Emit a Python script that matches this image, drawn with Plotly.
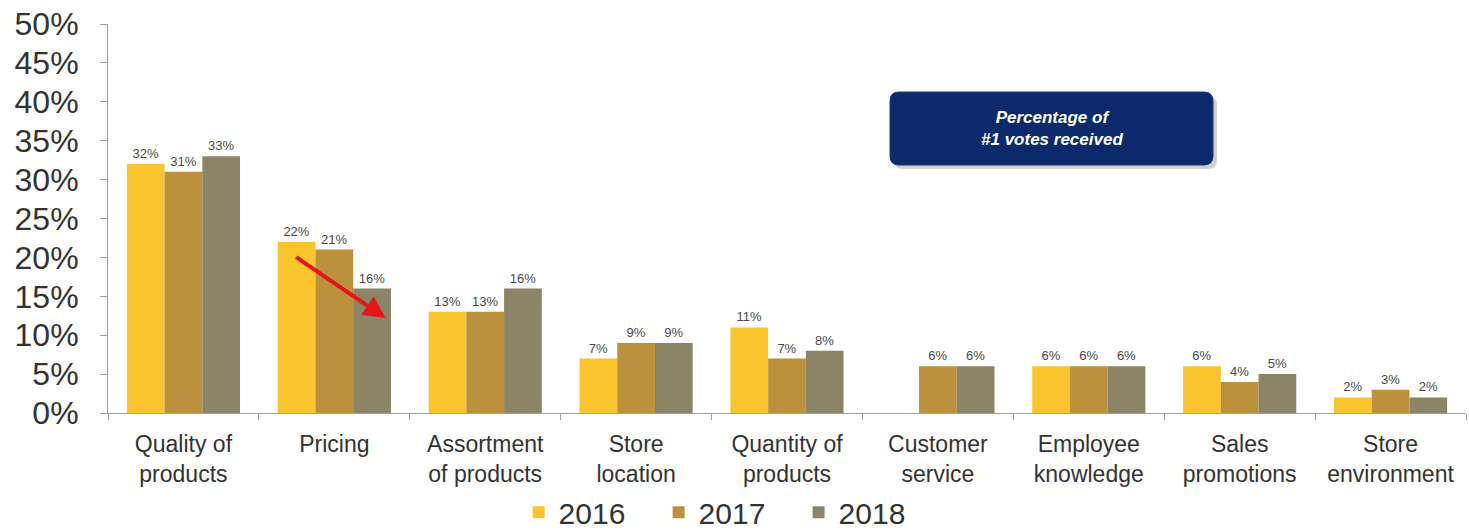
import plotly.graph_objects as go

categories = [
    "Quality of<br>products", "Pricing", "Assortment<br>of products",
    "Store<br>location", "Quantity of<br>products", "Customer<br>service",
    "Employee<br>knowledge", "Sales<br>promotions", "Store<br>environment",
]
years = ["2016", "2017", "2018"]
values_2016 = [32, 22, 13, 7, 11, None, 6, 6, 2]
values_2017 = [31, 21, 13, 9, 7, 6, 6, 4, 3]
values_2018 = [33, 16, 16, 9, 8, 6, 6, 5, 2]
colors = ["#FAC42E", "#BC913D", "#8B8466"]

W, H = 1469, 532
M_L, M_R, M_T, M_B = 108, 3, 24, 119
PW, PH = W - M_L - M_R, H - M_T - M_B


def px_to_paper(px, py):
    return (px - M_L) / PW, (H - M_B - py) / PH


def rounded_rect(x0, y0, x1, y1, r):
    """SVG path for a rounded rectangle given in pixel coordinates."""
    def p(x, y):
        a, b = px_to_paper(x, y)
        return f"{a:.5f},{b:.5f}"
    return (
        f"M{p(x0 + r, y0)} L{p(x1 - r, y0)} Q{p(x1, y0)} {p(x1, y0 + r)} "
        f"L{p(x1, y1 - r)} Q{p(x1, y1)} {p(x1 - r, y1)} "
        f"L{p(x0 + r, y1)} Q{p(x0, y1)} {p(x0, y1 - r)} "
        f"L{p(x0, y0 + r)} Q{p(x0, y0)} {p(x0 + r, y0)} Z"
    )


fig = go.Figure()
for name, vals, col in zip(years, [values_2016, values_2017, values_2018], colors):
    labels = [f"{v}%" if v is not None else "" for v in vals]
    fig.add_trace(go.Bar(
        name=name, x=categories, y=vals,
        marker=dict(color=col, line=dict(width=0)),
        text=labels, texttemplate="%{text}", textposition="outside",
        textfont=dict(size=13, color="#4a4a4a"),
        cliponaxis=False,
    ))

# callout box with a soft drop shadow
fig.add_shape(type="path", xref="paper", yref="paper",
              path=rounded_rect(894, 96, 1217, 169, 9),
              fillcolor="rgba(120,120,120,0.35)", line=dict(width=0), layer="above")
fig.add_shape(type="path", xref="paper", yref="paper",
              path=rounded_rect(890, 92, 1213, 165, 9),
              fillcolor="#0C2A6B", line=dict(color="#1a3a80", width=1), layer="above")
bx, by = px_to_paper((890 + 1213) / 2, (92 + 165) / 2)
fig.add_annotation(x=bx, y=by, xref="paper", yref="paper", showarrow=False,
                   xanchor="center", yanchor="middle",
                   text="<b><i>Percentage of<br>#1 votes received</i></b>",
                   font=dict(size=17, color="white", family="Liberation Sans, Arial"),
                   align="center")

# red arrow over the Pricing bars
fig.add_annotation(x=1.34, y=12.2, xref="x", yref="y", ax=-91, ay=-62,
                   showarrow=True, arrowhead=2, arrowsize=1.1, arrowwidth=4,
                   arrowcolor="#E5151A", text="")

fig.update_layout(
    width=W, height=H,
    margin=dict(l=M_L, r=M_R, t=M_T, b=M_B, autoexpand=False),
    paper_bgcolor="white", plot_bgcolor="white",
    barmode="group", bargap=0.25, bargroupgap=0,
    font=dict(family="Liberation Sans, Arial", color="#333333"),
    showlegend=True,
    legend=dict(orientation="h", x=0.457, xanchor="center", y=-0.255, yanchor="middle",
                font=dict(size=30, color="#333333"), itemwidth=30,
                entrywidth=95, entrywidthmode="pixels",
                bgcolor="rgba(0,0,0,0)"),
)
fig.update_xaxes(showline=True, linecolor="#a0a0a0", linewidth=1,
                 ticks="outside", tickson="boundaries", ticklen=6, tickcolor="#a0a0a0",
                 tickfont=dict(size=23, color="#333333"), ticklabelstandoff=10,
                 showgrid=False, automargin=False)
fig.update_yaxes(range=[0, 50], dtick=5, ticksuffix="%", showline=True,
                 linecolor="#a0a0a0", linewidth=1, ticks="outside", ticklen=7,
                 tickcolor="#a0a0a0", tickfont=dict(size=32, color="#333333"),
                 ticklabelstandoff=15, showgrid=False, zeroline=False, automargin=False)

fig.write_html("out.html")
